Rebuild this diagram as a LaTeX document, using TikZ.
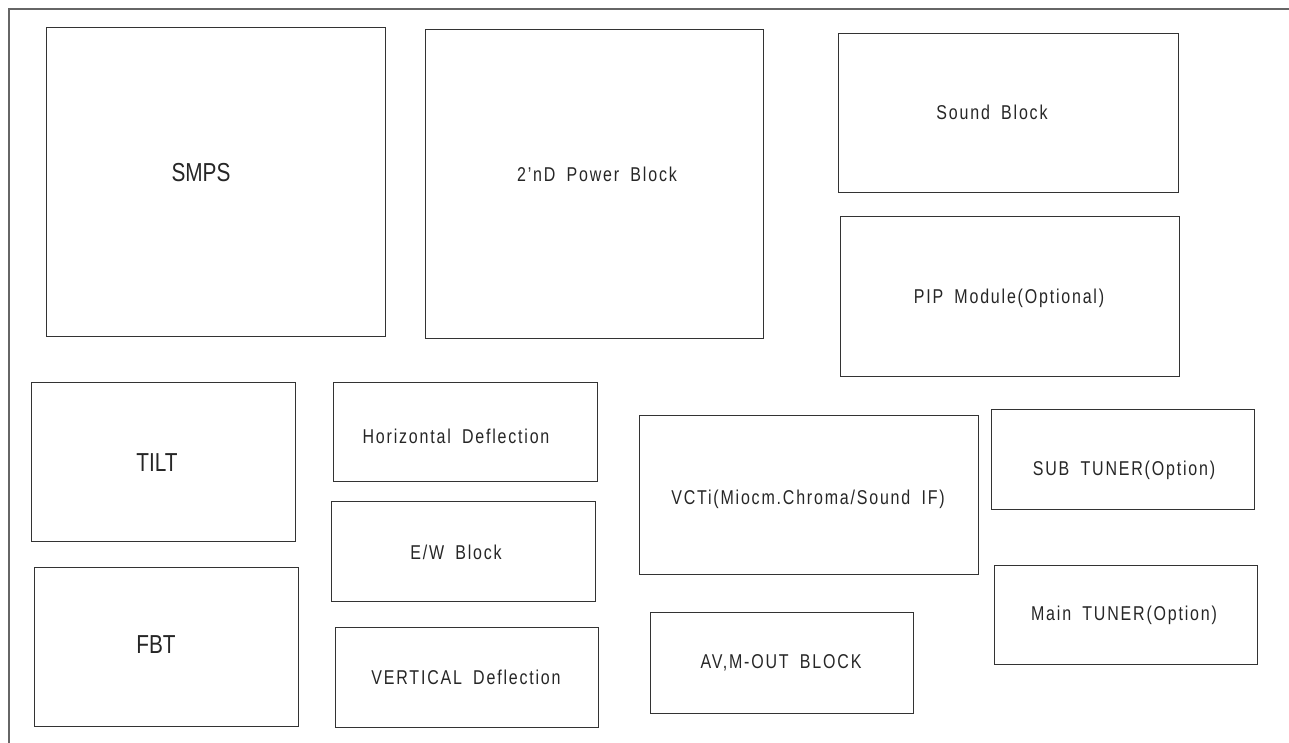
\documentclass[tikz,border=0pt]{standalone}
\usepackage{fontspec}
\setmainfont{Liberation Sans}[FakeStretch=0.8,LetterSpace=9,WordSpace=1.8]
\newfontfamily\bigfont{Liberation Sans}[FakeStretch=0.8]
\usepackage{xcolor}
\usepackage{tikz}

\begin{document}
\begin{tikzpicture}[x=1pt,y=-1pt,line join=miter,
    blk/.style={draw=black!80,line width=1pt},
    frm/.style={draw=black!60,line width=1.1pt},
    lbl/.style={inner sep=0pt,text=black!85,font=\fontsize{20}{22}\selectfont},
    biglbl/.style={inner sep=0pt,text=black!85,font=\bigfont\fontsize{26}{28}\selectfont}]
  \useasboundingbox (0,0) rectangle (1289,743);
  % frame
  \draw[frm] (9,743) -- (9,9) -- (1289,9);
  % top row
  \draw[blk] (46,28) rectangle (385,336);
  \draw[blk] (425,30) rectangle (763,338);
  \draw[blk] (838,34) rectangle (1178,193);
  \draw[blk] (840,217) rectangle (1179,376);
  % left column
  \draw[blk] (31,382) rectangle (295,541);
  \draw[blk] (34,567) rectangle (298,726);
  % deflection column
  \draw[blk] (333,382) rectangle (597,481);
  \draw[blk] (331,501) rectangle (595,601);
  \draw[blk] (335,627) rectangle (598,727);
  % right part
  \draw[blk] (639,415) rectangle (978,574);
  \draw[blk] (650,612) rectangle (913,713);
  \draw[blk] (991,409) rectangle (1254,509);
  \draw[blk] (994,565) rectangle (1257,664);
  % labels
  \node[biglbl] (smps) at (201,173) {SMPS};
  \node[lbl] (pwr) at (597,174) {2'nD Power Block};
  \node[lbl] (snd) at (992,112) {Sound Block};
  \node[lbl] (pip) at (1009,298) {PIP Module(Optional)};
  \node[biglbl] (tilt) at (157,463) {TILT};
  \node[biglbl] (fbt) at (156,645) {FBT};
  \node[lbl] (hdef) at (456,436) {Horizontal Deflection};
  \node[lbl] (ew) at (456,552) {E/W Block};
  \node[lbl] (vdef) at (466,677) {VERTICAL Deflection};
  \node[lbl] (vcti) at (808,499) {VCTi(Miocm.Chroma/Sound IF)};
  \node[lbl] (avout) at (781,663) {AV,M-OUT BLOCK};
  \node[lbl] (subtn) at (1124,470) {SUB TUNER(Option)};
  \node[lbl] (maintn) at (1124,615) {Main TUNER(Option)};
\end{tikzpicture}
\end{document}
